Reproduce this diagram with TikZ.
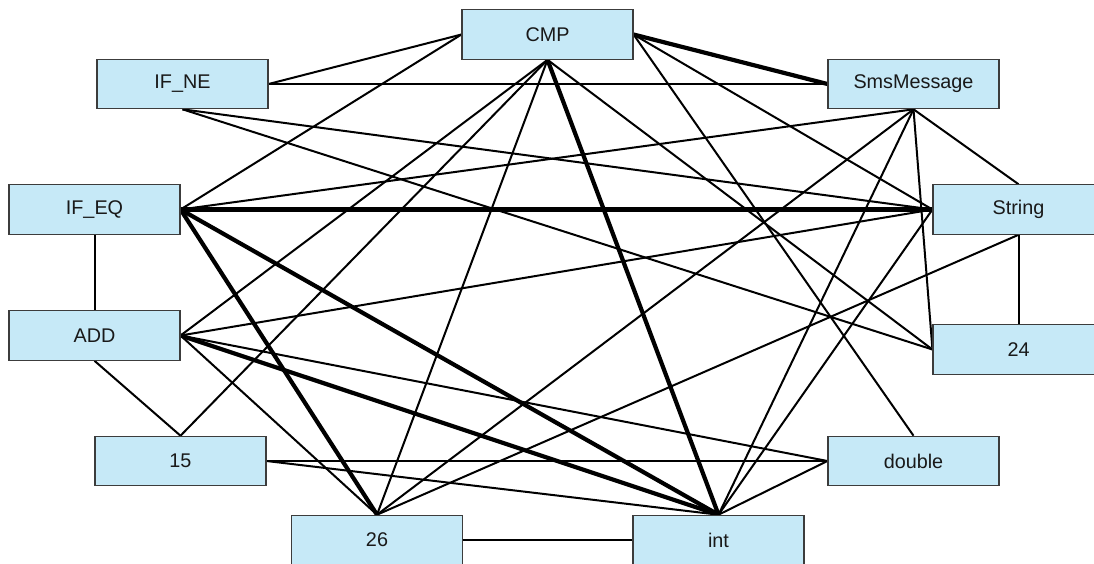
\documentclass[tikz,border=0pt]{standalone}
\usepackage{fontspec}
\setmainfont{Liberation Sans}
\usetikzlibrary{backgrounds}
\definecolor{boxfill}{RGB}{198,233,247}
\definecolor{boxline}{RGB}{60,60,60}
\tikzset{
  term/.style={draw=boxline, line width=1.1pt, fill=boxfill, rectangle,
    minimum width=171pt, minimum height=49.5pt, inner sep=0pt,
    font=\fontsize{19.8}{23}\selectfont, text=black!90},
  link/.style={draw=black, line width=2pt},
  strong/.style={draw=black, line width=4.2pt}
}
\begin{document}
\begin{tikzpicture}[x=1pt,y=-1pt]
\useasboundingbox (0,0) rectangle (1094,563);

% terms
\node[term] (cmp)    at (547.5,34.5)  {CMP};
\node[term] (ifne)   at (182.5,84)    {IF\_NE};
\node[term] (sms)    at (913.5,84)    {SmsMessage};
\node[term] (ifeq)   at (94.5,209.5)  {IF\_EQ};
\node[term] (string) at (1018.5,209.5){String};
\node[term] (add)    at (94.5,335.5)  {ADD};
\node[term] (n24)    at (1018.5,349.5){24};
\node[term] (n15)    at (180.5,461)   {15};
\node[term] (dbl)    at (913.5,461)   {double};
\node[term] (n26)    at (377,540)     {26};
\node[term] (int)    at (718.5,540)   {int};

\begin{scope}[on background layer]
  % ordinary links
  \draw[link] (ifne.east) -- (cmp.west);
  \draw[link] (ifne.east) -- (sms.west);
  \draw[link] (ifne.south) -- (string.west);
  \draw[link] (ifne.south) -- (n24.west);
  \draw[link] (ifeq.east) -- (cmp.west);
  \draw[link] (ifeq.east) -- (sms.south);
  \draw[link] (ifeq.south) -- (add.north);
  \draw[link] (add.east) -- (cmp.south);
  \draw[link] (add.east) -- (string.west);
  \draw[link] (add.east) -- (dbl.west);
  \draw[link] (add.east) -- (n26.north);
  \draw[link] (add.south) -- (n15.north);
  \draw[link] (cmp.south) -- (n15.north);
  \draw[link] (cmp.south) -- (n26.north);
  \draw[link] (cmp.south) -- (n24.west);
  \draw[link] (cmp.east) -- (string.west);
  \draw[link] (cmp.east) -- (dbl.north);
  \draw[link] (sms.south) -- (n26.north);
  \draw[link] (sms.south) -- (int.north);
  \draw[link] (sms.south) -- (n24.west);
  \draw[link] (sms.south) -- (string.north);
  \draw[link] (string.south) -- (n24.north);
  \draw[link] (string.south) -- (n26.north);
  \draw[link] (string.west) -- (int.north);
  \draw[link] (n15.east) -- (dbl.west);
  \draw[link] (n15.east) -- (int.north);
  \draw[link] (n26.east) -- (int.west);
  \draw[link] (int.north) -- (dbl.west);
  % strong links
  \draw[strong] (cmp.east) -- (sms.west);
  \draw[strong] (cmp.south) -- (int.north);
  \draw[strong] (ifeq.east) -- (string.west);
  \draw[strong] (ifeq.east) -- (int.north);
  \draw[strong] (ifeq.east) -- (n26.north);
  \draw[strong] (add.east) -- (int.north);
\end{scope}
\end{tikzpicture}
\end{document}
